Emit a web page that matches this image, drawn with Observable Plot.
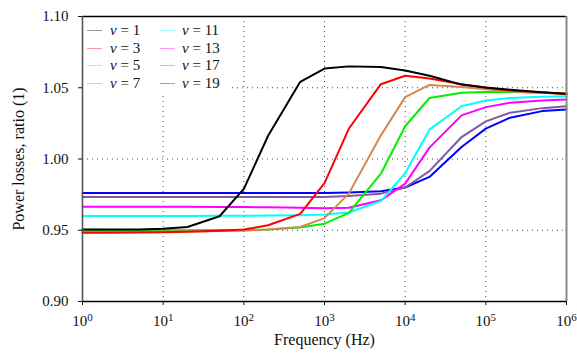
<!DOCTYPE html>
<html>
<head>
<meta charset="utf-8">
<script src="https://cdn.jsdelivr.net/npm/d3@7"></script>
<script src="https://cdn.jsdelivr.net/npm/@observablehq/plot@0.6"></script>
<style>
  html, body { margin: 0; padding: 0; background: #fff; }
  #wrap { position: relative; width: 577px; height: 353px; }
  #legend { position: absolute; left: 84px; top: 18px; width: 144px; height: 74px; background: #fff;
            font-family: "Liberation Serif", "Times New Roman", "DejaVu Serif", serif; font-size: 15px; color: #111; }
  .lg-line { position: absolute; width: 15px; height: 1px; opacity: 0.4; }
  .lg-text { position: absolute; line-height: 18px; white-space: nowrap; }
</style>
</head>
<body>
<div id="wrap"><div id="legend"></div></div>
<script>
// ---- data ----
const freq = [1, 2, 5, 10, 20, 50, 100, 200, 500, 1e3, 2e3, 5e3, 1e4, 2e4, 5e4, 1e5, 2e5, 5e5, 1e6];
const nuLabels = ["1", "3", "5", "7", "11", "13", "17", "19"];
const colors = ["#000000", "#ff0000", "#d2884f", "#00f000", "#00ffff", "#ff00ff", "#7f5aa2", "#0000ff"];
const nu1  = [0.9505,0.9505,0.9506,0.9510,0.9523,0.9598,0.9790,1.0163,1.0542,1.0635,1.0650,1.0645,1.0621,1.0584,1.0522,1.0502,1.0486,1.0469,1.0458];
const nu3  = [0.9483,0.9483,0.9484,0.9486,0.9490,0.9497,0.9505,0.9535,0.9615,0.9831,1.0212,1.0525,1.0584,1.0565,1.0525,1.0500,1.0480,1.0466,1.0457];
const nu5  = [0.9490,0.9490,0.9490,0.9491,0.9492,0.9494,0.9497,0.9505,0.9523,0.9585,0.9757,1.0166,1.0434,1.0520,1.0505,1.0490,1.0474,1.0465,1.0457];
const nu7  = [0.9500,0.9500,0.9500,0.9500,0.9500,0.9501,0.9502,0.9505,0.9520,0.9546,0.9622,0.9897,1.0230,1.0428,1.0465,1.0470,1.0470,1.0466,1.0458];
const nu11 = [0.9600,0.9600,0.9600,0.9600,0.9600,0.9601,0.9602,0.9603,0.9605,0.9610,0.9625,0.9705,0.9900,1.0206,1.0370,1.0410,1.0428,1.0436,1.0440];
const nu13 = [0.9665,0.9665,0.9665,0.9665,0.9665,0.9664,0.9663,0.9661,0.9658,0.9655,0.9658,0.9710,0.9827,1.0080,1.0306,1.0364,1.0395,1.0410,1.0418];
const nu17 = [0.9733,0.9733,0.9733,0.9733,0.9733,0.9733,0.9733,0.9733,0.9733,0.9734,0.9740,0.9757,0.9800,0.9915,1.0154,1.0264,1.0325,1.0357,1.0370];
const nu19 = [0.9762,0.9762,0.9762,0.9762,0.9762,0.9762,0.9762,0.9762,0.9762,0.9762,0.9765,0.9773,0.9800,0.9874,1.0084,1.0213,1.0290,1.0336,1.0348];
const xTicks = [1, 10, 100, 1e3, 1e4, 1e5, 1e6];
const yTicks = [0.90, 0.95, 1.00, 1.05, 1.10];
const xLabel = "Frequency (Hz)";
const yLabel = "Power losses, ratio (1)";

const seriesValues = [nu1, nu3, nu5, nu7, nu11, nu13, nu17, nu19];
const rows = [];
for (let s = seriesValues.length - 1; s >= 0; s--) {
  freq.forEach((f, i) => rows.push({ f, v: seriesValues[s][i], nu: nuLabels[s] }));
}

const font = "'Liberation Serif', 'Times New Roman', 'DejaVu Serif', serif";
const chart = Plot.plot({
  width: 577, height: 353,
  marginLeft: 82, marginRight: 11, marginTop: 16, marginBottom: 52,
  style: { fontFamily: font, fontSize: "15px", background: "#fff", color: "#111" },
  x: { type: "log", domain: [xTicks[0], xTicks[xTicks.length - 1]] },
  y: { domain: [yTicks[0], yTicks[yTicks.length - 1]] },
  color: { domain: nuLabels, range: colors },
  marks: [
    Plot.gridX(xTicks.slice(1, -1), { stroke: "#333", strokeOpacity: 0.9, strokeDasharray: "1,4" }),
    Plot.gridY(yTicks.slice(1, -1), { stroke: "#333", strokeOpacity: 0.9, strokeDasharray: "1,4" }),
    Plot.line(rows, { x: "f", y: "v", z: "nu", stroke: "nu", strokeWidth: 2 }),
    Plot.ruleY([yTicks[0], yTicks[yTicks.length - 1]], { stroke: "#000", strokeWidth: 1.3 }),
    Plot.ruleX([xTicks[0]], { stroke: "#555", strokeWidth: 1.6 }),
    Plot.ruleX([xTicks[xTicks.length - 1]], { stroke: "#888", strokeWidth: 2 }),
    Plot.axisX({ ticks: xTicks, tickSize: 4, tickPadding: 10, tickFormat: d => String(Math.round(Math.log10(d))), label: null, fontSize: 15, fontFamily: font }),
    Plot.axisY({ ticks: yTicks, tickSize: 4, tickPadding: 10, tickFormat: d3.format(".2f"), label: null, fontSize: 15, fontFamily: font }),
    Plot.text([xLabel], { text: d => d, frameAnchor: "bottom", dy: 38, textAnchor: "middle", lineAnchor: "middle", fontSize: 16, fontFamily: font }),
    Plot.text([yLabel], { text: d => d, frameAnchor: "left", dx: -64, rotate: -90, textAnchor: "middle", lineAnchor: "middle", fontSize: 16, fontFamily: font })
  ]
});
document.getElementById("wrap").insertBefore(chart, document.getElementById("legend"));

chart.querySelectorAll('g[aria-label="x-axis tick label"] text').forEach(t => {
  const k = t.textContent;
  t.textContent = "";
  const NS = "http://www.w3.org/2000/svg";
  const base = document.createElementNS(NS, "tspan");
  base.textContent = "10";
  const sup = document.createElementNS(NS, "tspan");
  sup.textContent = k;
  sup.setAttribute("dy", "-0.45em");
  sup.setAttribute("font-size", "11");
  t.appendChild(base); t.appendChild(sup);
});

const legend = document.getElementById("legend");
nuLabels.forEach((n, i) => {
  const col = Math.floor(i / 4), row = i % 4;
  const cy = 12 + 17.6 * row;
  const line = document.createElement("div");
  line.className = "lg-line";
  line.style.left = (col ? 76 : 3) + "px";
  line.style.top = cy + "px";
  line.style.background = colors[i];
  legend.appendChild(line);
  const txt = document.createElement("div");
  txt.className = "lg-text";
  txt.style.left = (col ? 98 : 26) + "px";
  txt.style.top = (cy - 9) + "px";
  txt.innerHTML = "<i>ν</i> = " + n;
  legend.appendChild(txt);
});
</script>
</body>
</html>
